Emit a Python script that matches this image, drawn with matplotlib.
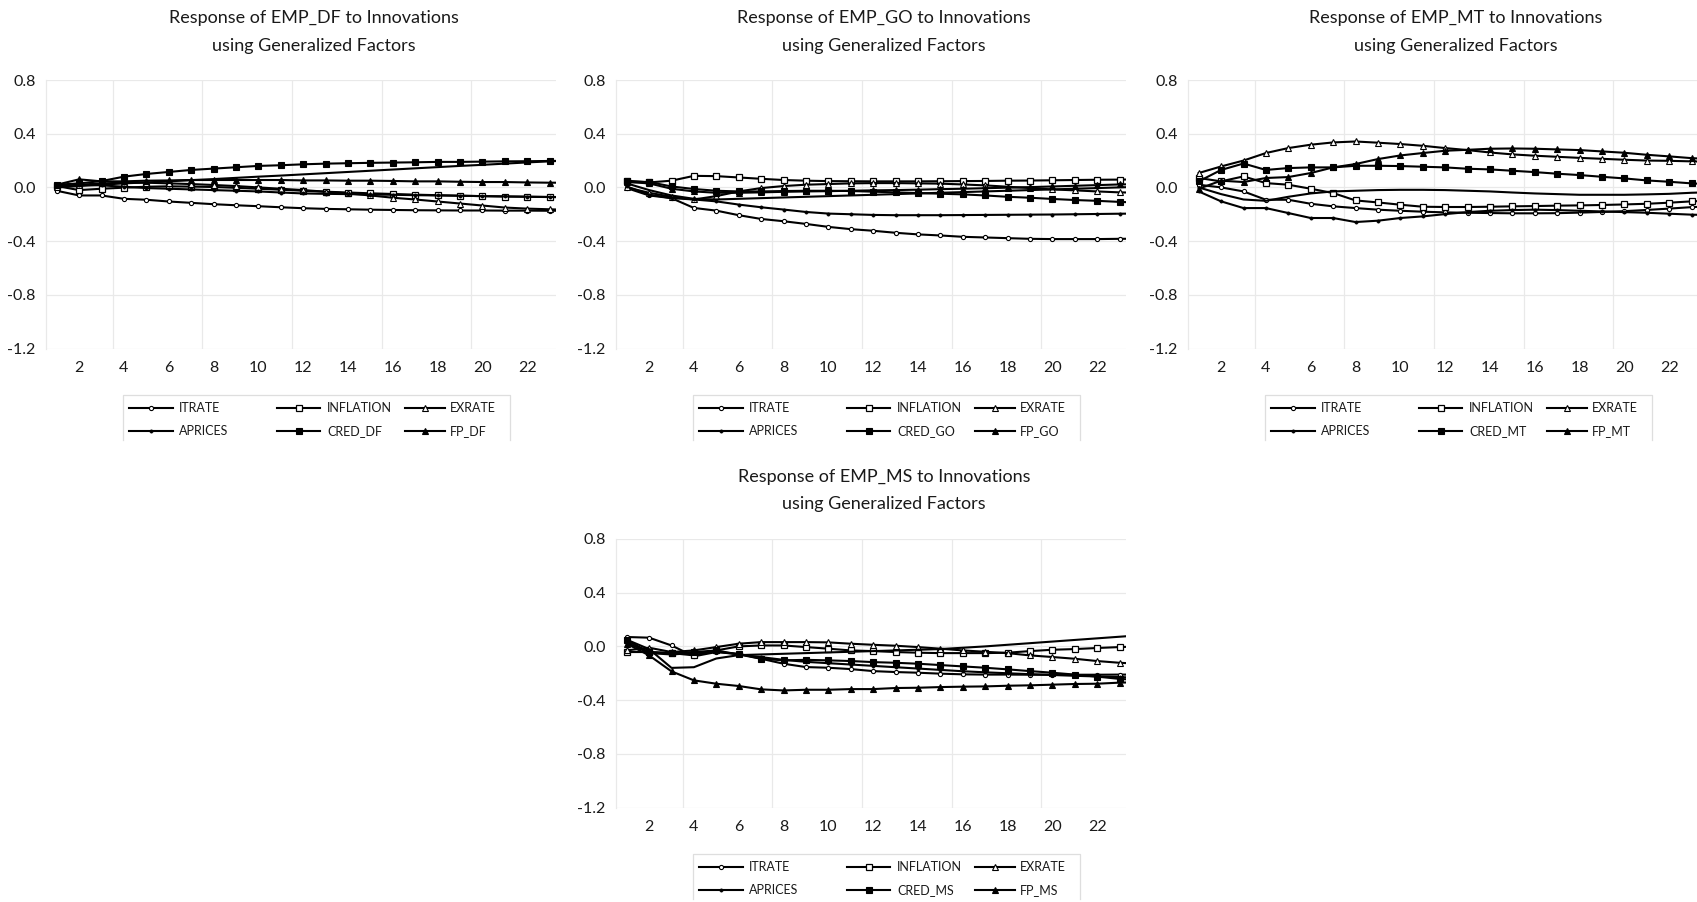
import matplotlib
matplotlib.use("Agg")
import matplotlib.pyplot as plt
from matplotlib.lines import Line2D

plt.rcParams['font.family'] = ['Lato', 'DejaVu Sans']

W, H = 1697, 902

# ---------------- data ----------------
periods = list(range(1, 25))
x_ticks = [2, 4, 6, 8, 10, 12, 14, 16, 18, 20, 22]
y_ticks = [0.8, 0.4, 0.0, -0.4, -0.8, -1.2]
shocks = ["ITRATE", "INFLATION", "EXRATE", "APRICES", "CRED", "FP", "EMP"]

# EMP_DF
ITRATE_DF = [-0.025, -0.06, -0.06, -0.085, -0.092, -0.105, -0.115, -0.125, -0.133, -0.14, -0.148, -0.155,
             -0.16, -0.163, -0.166, -0.168, -0.17, -0.171, -0.172, -0.172, -0.173, -0.173, -0.174, -0.174]
INFLATION_DF = [0.01, -0.02, -0.01, -0.002, 0.005, 0.008, 0.006, 0.003, -0.003, -0.01, -0.017, -0.025,
                -0.032, -0.038, -0.044, -0.049, -0.054, -0.058, -0.062, -0.065, -0.068, -0.07, -0.072, -0.074]
EXRATE_DF = [0.0, 0.02, 0.03, 0.035, 0.035, 0.03, 0.025, 0.018, 0.01, 0.0, -0.01, -0.02,
             -0.032, -0.045, -0.06, -0.077, -0.09, -0.105, -0.12, -0.135, -0.15, -0.158, -0.163, -0.168]
APRICES_DF = [0.01, 0.02, 0.015, 0.005, -0.005, -0.01, -0.015, -0.02, -0.025, -0.03, -0.038, -0.045,
              -0.048, -0.05, -0.053, -0.055, -0.058, -0.06, -0.062, -0.065, -0.067, -0.069, -0.071, -0.073]
CRED_DF = [0.02, 0.03, 0.047, 0.08, 0.10, 0.115, 0.13, 0.14, 0.15, 0.16, 0.165, 0.172,
           0.177, 0.18, 0.183, 0.185, 0.187, 0.19, 0.19, 0.192, 0.194, 0.195, 0.197, 0.198]
FP_DF = [0.02, 0.06, 0.045, 0.045, 0.05, 0.052, 0.055, 0.055, 0.055, 0.055, 0.055, 0.052,
         0.052, 0.05, 0.05, 0.048, 0.045, 0.045, 0.042, 0.04, 0.04, 0.037, 0.035, 0.035]
EMP_DF = [0.0, 0.01, 0.02, 0.03, 0.037, 0.045, 0.054, 0.062, 0.071, 0.08, 0.088, 0.097,
          0.106, 0.115, 0.124, 0.133, 0.142, 0.151, 0.16, 0.168, 0.177, 0.186, 0.194, 0.202]

# EMP_GO
ITRATE_GO = [-0.005, -0.06, -0.08, -0.153, -0.173, -0.207, -0.235, -0.252, -0.272, -0.294, -0.311, -0.323,
             -0.338, -0.35, -0.358, -0.368, -0.373, -0.378, -0.383, -0.385, -0.385, -0.385, -0.383, -0.382]
INFLATION_GO = [0.05, 0.037, 0.05, 0.086, 0.084, 0.074, 0.064, 0.055, 0.05, 0.047, 0.046, 0.045,
                0.045, 0.045, 0.046, 0.047, 0.048, 0.05, 0.051, 0.053, 0.055, 0.057, 0.058, 0.06]
EXRATE_GO = [0.0, -0.04, -0.07, -0.09, -0.065, -0.03, -0.005, 0.01, 0.02, 0.025, 0.03, 0.032,
             0.032, 0.03, 0.028, 0.022, 0.015, 0.005, -0.005, -0.015, -0.022, -0.03, -0.037, -0.04]
APRICES_GO = [0.007, -0.054, -0.08, -0.09, -0.104, -0.128, -0.148, -0.165, -0.183, -0.195, -0.2, -0.205,
              -0.207, -0.207, -0.207, -0.206, -0.205, -0.204, -0.203, -0.202, -0.2, -0.198, -0.196, -0.195]
CRED_GO = [0.045, 0.04, 0.007, -0.012, -0.025, -0.03, -0.03, -0.027, -0.025, -0.025, -0.027, -0.032,
           -0.037, -0.042, -0.047, -0.052, -0.06, -0.07, -0.077, -0.086, -0.094, -0.1, -0.108, -0.114]
FP_GO = [0.04, 0.03, -0.01, -0.03, -0.04, -0.04, -0.037, -0.033, -0.03, -0.028, -0.025, -0.022,
         -0.02, -0.017, -0.013, -0.01, -0.006, -0.002, 0.002, 0.007, 0.012, 0.017, 0.022, 0.025]
EMP_GO = [0.03, -0.02, -0.06, -0.085, -0.09, -0.085, -0.08, -0.075, -0.07, -0.065, -0.06, -0.055,
          -0.05, -0.045, -0.04, -0.035, -0.03, -0.025, -0.02, -0.015, -0.01, -0.005, 0.0, 0.005]

# EMP_MT
ITRATE_MT = [0.02, 0.0, -0.03, -0.092, -0.092, -0.122, -0.141, -0.154, -0.166, -0.174, -0.181, -0.186,
             -0.189, -0.191, -0.193, -0.193, -0.192, -0.188, -0.183, -0.177, -0.168, -0.158, -0.147, -0.14]
INFLATION_MT = [0.07, 0.045, 0.082, 0.032, 0.02, -0.01, -0.042, -0.097, -0.112, -0.129, -0.144, -0.146,
                -0.146, -0.144, -0.141, -0.139, -0.136, -0.134, -0.131, -0.127, -0.122, -0.114, -0.104, -0.098]
EXRATE_MT = [0.107, 0.156, 0.2, 0.256, 0.293, 0.318, 0.335, 0.342, 0.333, 0.323, 0.31, 0.293,
             0.278, 0.26, 0.246, 0.236, 0.228, 0.22, 0.213, 0.206, 0.2, 0.198, 0.194, 0.19]
APRICES_MT = [-0.03, -0.104, -0.154, -0.154, -0.191, -0.228, -0.228, -0.258, -0.248, -0.228, -0.216, -0.199,
              -0.184, -0.174, -0.169, -0.166, -0.169, -0.174, -0.179, -0.184, -0.189, -0.196, -0.203, -0.207]
CRED_MT = [0.045, 0.13, 0.178, 0.13, 0.144, 0.149, 0.149, 0.161, 0.161, 0.159, 0.154, 0.149,
           0.139, 0.134, 0.124, 0.114, 0.102, 0.092, 0.079, 0.067, 0.052, 0.042, 0.03, 0.022]
FP_MT = [-0.01, 0.05, 0.04, 0.07, 0.077, 0.107, 0.149, 0.174, 0.211, 0.238, 0.256, 0.273,
         0.28, 0.288, 0.29, 0.288, 0.283, 0.278, 0.268, 0.258, 0.243, 0.231, 0.218, 0.21]
EMP_MT = [0.0, -0.05, -0.09, -0.1, -0.07, -0.045, -0.03, -0.025, -0.02, -0.018, -0.018, -0.02,
          -0.025, -0.03, -0.038, -0.045, -0.05, -0.055, -0.055, -0.055, -0.052, -0.048, -0.04, -0.035]

# EMP_MS
ITRATE_MS = [0.07, 0.065, 0.007, -0.074, -0.042, -0.055, -0.092, -0.129, -0.154, -0.159, -0.169, -0.184,
             -0.191, -0.196, -0.203, -0.208, -0.21, -0.21, -0.211, -0.211, -0.211, -0.211, -0.21, -0.21]
INFLATION_MS = [-0.042, -0.042, -0.05, -0.067, -0.03, 0.0, 0.007, 0.007, -0.005, -0.017, -0.03, -0.035,
                -0.042, -0.047, -0.05, -0.05, -0.05, -0.047, -0.035, -0.025, -0.02, -0.012, -0.005, 0.0]
EXRATE_MS = [-0.03, -0.01, -0.042, -0.03, -0.005, 0.02, 0.032, 0.032, 0.032, 0.03, 0.02, 0.012,
             0.005, -0.005, -0.017, -0.03, -0.04, -0.05, -0.067, -0.079, -0.092, -0.109, -0.122, -0.13]
APRICES_MS = [0.03, -0.05, -0.06, -0.05, -0.04, -0.06, -0.08, -0.1, -0.115, -0.125, -0.135, -0.145,
              -0.155, -0.165, -0.175, -0.185, -0.193, -0.2, -0.207, -0.213, -0.219, -0.224, -0.229, -0.233]
CRED_MS = [0.045, -0.042, -0.05, -0.042, -0.03, -0.06, -0.092, -0.104, -0.1, -0.104, -0.109, -0.117,
           -0.122, -0.129, -0.139, -0.149, -0.159, -0.171, -0.184, -0.196, -0.21, -0.225, -0.242, -0.252]
FP_MS = [0.02, -0.067, -0.186, -0.253, -0.278, -0.295, -0.32, -0.328, -0.323, -0.323, -0.318, -0.318,
         -0.31, -0.308, -0.303, -0.3, -0.298, -0.293, -0.29, -0.285, -0.28, -0.278, -0.27, -0.266]
EMP_MS = [0.05, -0.02, -0.16, -0.155, -0.09, -0.065, -0.06, -0.055, -0.05, -0.045, -0.04, -0.035,
          -0.03, -0.025, -0.02, -0.01, 0.0, 0.012, 0.024, 0.036, 0.048, 0.06, 0.072, 0.084]

# ---------------- styles ----------------
INK = '#1a1a1a'
GRID = '#e9e9e9'
STYLE = {
    "ITRATE":    dict(marker='o', ms=3.0, mfc='white', mec='black', mew=0.8),
    "INFLATION": dict(marker='s', ms=3.8, mfc='white', mec='black', mew=0.9),
    "EXRATE":    dict(marker='^', ms=4.0, mfc='white', mec='black', mew=0.8),
    "APRICES":   dict(marker='o', ms=2.3, mfc='black', mec='black', mew=0.5),
    "CRED":      dict(marker='s', ms=3.8, mfc='black', mec='black', mew=0.8),
    "FP":        dict(marker='^', ms=4.2, mfc='black', mec='black', mew=0.8),
    "EMP":       dict(marker='None'),
}

panels = [
    ("DF", 0, 0, [ITRATE_DF, INFLATION_DF, EXRATE_DF, APRICES_DF, CRED_DF, FP_DF, EMP_DF]),
    ("GO", 570, 0, [ITRATE_GO, INFLATION_GO, EXRATE_GO, APRICES_GO, CRED_GO, FP_GO, EMP_GO]),
    ("MT", 1142, 0, [ITRATE_MT, INFLATION_MT, EXRATE_MT, APRICES_MT, CRED_MT, FP_MT, EMP_MT]),
    ("MS", 570, 459, [ITRATE_MS, INFLATION_MS, EXRATE_MS, APRICES_MS, CRED_MS, FP_MS, EMP_MS]),
]

fig = plt.figure(figsize=(W / 100, H / 100), dpi=100)
fig.patch.set_facecolor('white')


def fx(px):
    return px / W


def fy(py):
    return 1 - py / H


for suffix, xo, yo, series in panels:
    ax = fig.add_axes([fx(xo + 45.5), fy(yo + 348.5), (556 - 45.5) / W, 268.5 / H])
    ax.set_xlim(0.5, 23.29)
    ax.set_ylim(-1.2, 0.8)
    ax.set_xticks(x_ticks)
    ax.set_xticklabels([str(t) for t in x_ticks])
    ax.set_yticks(y_ticks)
    ax.set_yticklabels([f"{t:.1f}" if abs(t) > 1e-9 else "0.0" for t in y_ticks])
    ax.set_xticks([3.5, 7.5, 11.5, 15.5, 19.5], minor=True)
    ax.grid(which='minor', axis='x', color=GRID, lw=0.9)
    ax.grid(which='major', axis='y', color=GRID, lw=0.9)
    ax.grid(which='major', axis='x', visible=False)
    ax.tick_params(which='both', length=0)
    ax.tick_params(axis='y', labelsize=11.5, labelcolor=INK, pad=7)
    ax.tick_params(axis='x', labelsize=11.5, labelcolor=INK, pad=9)
    for s in ['top', 'right', 'bottom']:
        ax.spines[s].set_visible(False)
    ax.spines['left'].set_color(GRID)
    ax.spines['left'].set_linewidth(0.9)
    ax.set_axisbelow(True)

    for name, vals in zip(shocks, series):
        st = STYLE[name]
        ax.plot(periods, vals, color='black', lw=1.5, **st)

    # title
    fig.text(fx(xo + 314), fy(yo + 18), f"Response of EMP_{suffix} to Innovations",
             ha='center', va='center', fontsize=13, color=INK)
    fig.text(fx(xo + 314), fy(yo + 45.5), "using Generalized Factors",
             ha='center', va='center', fontsize=13, color=INK)

    # legend (drawn by hand, EViews-style, 3 columns); the source picture crops
    # each legend just below its second row
    labels = {"ITRATE": "ITRATE", "INFLATION": "INFLATION", "EXRATE": "EXRATE",
              "APRICES": "APRICES", "CRED": f"CRED_{suffix}", "FP": f"FP_{suffix}"}
    layout = [["ITRATE", "INFLATION", "EXRATE"], ["APRICES", "CRED", "FP"]]
    col_line = [129, 277, 405]
    col_len = [44, 43, 40]
    col_text = [179, 327, 450]
    row_y = [408, 431]
    bottom = min(yo + 440, H + 5)
    bl, br, bt = xo + 123, xo + 510, yo + 395
    fig.add_artist(Line2D([fx(bl), fx(bl), fx(br), fx(br)],
                          [fy(bottom), fy(bt), fy(bt), fy(bottom)],
                          transform=fig.transFigure, color='#dedede', lw=0.9))
    for r, row in enumerate(layout):
        for c, name in enumerate(row):
            yy = fy(yo + row_y[r])
            x0 = xo + col_line[c]
            x1 = x0 + col_len[c]
            fig.add_artist(Line2D([fx(x0), fx(x1)], [yy, yy], transform=fig.transFigure,
                                  color='black', lw=1.5))
            st = STYLE[name]
            fig.add_artist(Line2D([fx((x0 + x1) / 2)], [yy], transform=fig.transFigure,
                                  color='black', lw=0, **st))
            fig.text(fx(xo + col_text[c]), yy, labels[name], ha='left', va='center',
                     fontsize=9, color=INK)

fig.savefig("out.png", dpi=100, facecolor='white')
